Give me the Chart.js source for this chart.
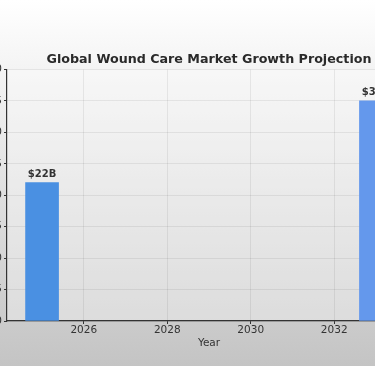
<!DOCTYPE html>
<html>
<head>
<meta charset="utf-8">
<script src="https://cdn.jsdelivr.net/npm/chart.js@4.4.1/dist/chart.umd.min.js"></script>
<style>
  html, body { margin: 0; padding: 0; }
  body {
    width: 375px; height: 366px; overflow: hidden; position: relative;
    background: linear-gradient(to bottom, #ffffff 0%, #c4c4c4 100%);
  }
  #wrap { position: absolute; left: -60px; top: 0; width: 540px; height: 366px; }
</style>
</head>
<body>
<div id="wrap"><canvas id="myChart"></canvas></div>
<script>
const years = [2025, 2033]
const marketSize = [22, 35]
const barLabels = ['$22B', '$35B']
const barColors = ['#4a90e2', '#6498ec']
const xTicks = [2026, 2028, 2030, 2032]

const font = "'DejaVu Sans', sans-serif"
const textColor = '#333333'

// plot area shading + title above it
const decor = {
  id: 'decor',
  beforeDraw(chart) {
    const {ctx, chartArea: a} = chart
    ctx.save()
    ctx.fillStyle = 'rgba(255,255,255,0.33)'
    ctx.fillRect(a.left, a.top, a.right - a.left, a.bottom - a.top)
    ctx.restore()
  },
  afterDraw(chart) {
    const {ctx, chartArea: a} = chart
    ctx.save()
    ctx.font = "bold 12.7px " + font
    ctx.fillStyle = '#2a2a2a'
    ctx.textAlign = 'center'
    ctx.textBaseline = 'middle'
    ctx.fillText('Global Wound Care Market Growth Projection', (a.left + a.right) / 2, a.top - 10)
    ctx.restore()
  },
  afterDatasetsDraw(chart) {
    const {ctx} = chart
    const meta = chart.getDatasetMeta(0)
    ctx.save()
    ctx.font = "bold 10px " + font
    ctx.fillStyle = textColor
    ctx.textAlign = 'center'
    ctx.textBaseline = 'middle'
    meta.data.forEach((bar, i) => {
      ctx.fillText(barLabels[i], bar.x, bar.y - 8.5)
    })
    ctx.restore()
  }
}

const data = {
  datasets: [{
    label: 'Market Size',
    data: years.map((y, i) => ({x: y, y: marketSize[i]})),
    backgroundColor: barColors,
    borderWidth: 0,
    barThickness: 33
  }]
}

const config = {
  type: 'bar',
  data: data,
  options: {
    responsive: true,
    maintainAspectRatio: false,
    animation: false,
    layout: { padding: { left: 0, right: 69, top: 69.5, bottom: 0 } },
    plugins: {
      legend: { display: false },
      tooltip: { enabled: false }
    },
    scales: {
      x: {
        type: 'linear',
        offset: false,
        min: 2024.16,
        max: 2033.84,
        afterBuildTicks: s => { s.ticks = xTicks.map(v => ({value: v})) },
        afterFit: s => { s.height = 45 },
        ticks: {
          color: textColor,
          font: { family: font, size: 10.5 },
          padding: 0,
          maxRotation: 0,
          callback: v => String(v)
        },
        grid: {
          offset: false,
          color: 'rgba(0,0,0,0.07)',
          tickColor: '#333333',
          tickLength: 3,
          lineWidth: 1
        },
        border: { display: true, color: '#333333', width: 1.2 },
        title: {
          display: true,
          text: 'Year',
          color: textColor,
          font: { family: font, size: 10.5 },
          padding: { top: 0, bottom: 16.5 }
        }
      },
      y: {
        min: 0,
        max: 40,
        afterFit: s => { s.width = 67 },
        ticks: {
          stepSize: 5,
          color: textColor,
          font: { family: font, size: 10.5 },
          padding: 2
        },
        grid: {
          color: 'rgba(0,0,0,0.07)',
          tickColor: '#333333',
          tickLength: 3,
          lineWidth: 1
        },
        border: { display: true, color: '#333333', width: 1.2 },
        title: {
          display: true,
          text: 'Market Size (Billion USD)',
          color: textColor,
          font: { family: font, size: 10.5 }
        }
      }
    }
  },
  plugins: [decor]
}

const myChart = new Chart(document.getElementById('myChart'), config)
</script>
</body>
</html>
